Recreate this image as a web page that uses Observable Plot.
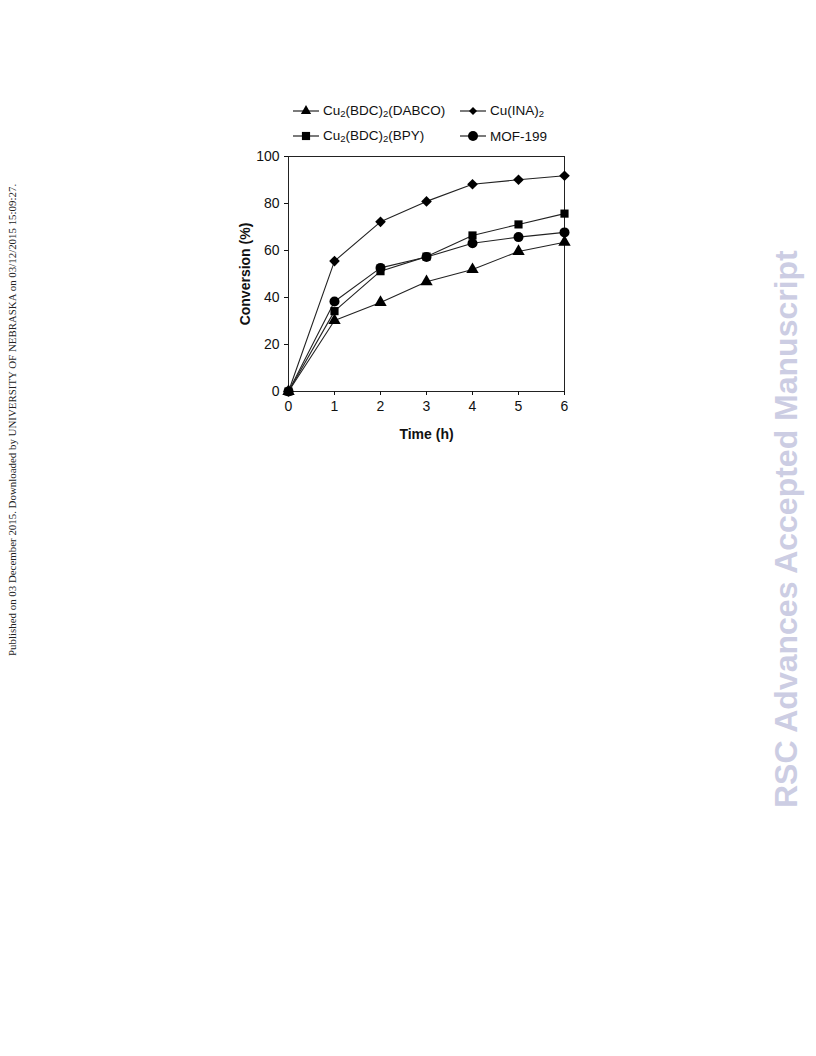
<!DOCTYPE html>
<html><head><meta charset="utf-8">
<script src="https://cdn.jsdelivr.net/npm/d3@7"></script>
<script src="https://cdn.jsdelivr.net/npm/@observablehq/plot@0.6"></script>
<style>
body{margin:0;width:816px;height:1056px;position:relative;background:#fff;font-family:"Liberation Sans",Arial,sans-serif;}
#chart{position:absolute;left:220px;top:145px;}
#chart svg text{font-family:"Liberation Sans",Arial,sans-serif;}
#chart svg [aria-label="y-axis label"] text,#chart svg [aria-label="x-axis label"] text{font-weight:bold;}
.leg{position:absolute;font-size:13.5px;color:#111;display:flex;align-items:center;white-space:nowrap;}
.leg svg{margin-right:3px;}
.side{position:absolute;transform-origin:0 0;transform:rotate(-90deg);white-space:nowrap;}
</style></head><body>
<div id="chart"></div>
<div class="side" style="left:6px;top:656px;font-family:'Liberation Serif',serif;font-size:10.9px;color:#222;">Published on 03 December 2015. Downloaded by UNIVERSITY OF NEBRASKA on 03/12/2015 15:09:27.</div>
<div class="side" style="left:768px;top:808px;font-family:'Liberation Sans',Arial,sans-serif;font-weight:bold;font-size:32px;color:#cccde3;">RSC Advances Accepted Manuscript</div>
<script>
const times = [0, 1, 2, 3, 4, 5, 6];
const dabco = [0, 30.2, 37.9, 46.7, 51.9, 59.6, 63.5];
const ina = [0, 55.5, 72.2, 80.9, 88.2, 90.1, 91.8];
const bpy = [0, 34.2, 51.2, 57.4, 66.4, 71.1, 75.7];
const mof = [0, 38.3, 52.6, 57.2, 63.1, 65.7, 67.7];
const yTicks = [0, 20, 40, 60, 80, 100];

const seriesDefs = [
  {name: "Cu2(BDC)2(DABCO)", html: "Cu<sub>2</sub>(BDC)<sub>2</sub>(DABCO)", values: dabco, symbol: "triangle", r: 4.6},
  {name: "Cu(INA)2", html: "Cu(INA)<sub>2</sub>", values: ina, symbol: "diamond2", r: 4.8},
  {name: "Cu2(BDC)2(BPY)", html: "Cu<sub>2</sub>(BDC)<sub>2</sub>(BPY)", values: bpy, symbol: "square", r: 4.6},
  {name: "MOF-199", html: "MOF-199", values: mof, symbol: "circle", r: 5}
];
const rows = seriesDefs.flatMap(s => times.map((t, i) => ({series: s.name, t, v: s.values[i], symbol: s.symbol, r: s.r})));

const plot = Plot.plot({
  width: 360, height: 305,
  marginLeft: 68, marginRight: 16, marginTop: 11, marginBottom: 59,
  style: {fontSize: "13.5px", color: "#111", background: "transparent"},
  x: {domain: [0, 6], ticks: times, label: null},
  y: {domain: [0, 100], ticks: yTicks, label: null},
  marks: [
    Plot.frame({stroke: "#222", strokeWidth: 1}),
    Plot.axisX({ticks: times, tickFormat: "d", tickSize: 4, tickPadding: 6, label: "Time (h)", labelAnchor: "center", labelArrow: "none", labelOffset: 47, fontSize: 14}),
    Plot.axisY({ticks: yTicks, tickFormat: "d", tickSize: 4, tickPadding: 5, label: "Conversion (%)", labelAnchor: "center", labelArrow: "none", labelOffset: 48, fontSize: 14}),
    Plot.line(rows, {x: "t", y: "v", z: "series", stroke: "#222", strokeWidth: 1.1}),
    ...seriesDefs.map(s => Plot.dot(rows.filter(d => d.series === s.name), {x: "t", y: "v", symbol: () => s.symbol, r: s.r, fill: "#000", stroke: "none"}))
  ]
});
document.getElementById("chart").appendChild(plot);

// legend
const legPos = [
  {left: 292, top: 103}, {left: 459, top: 103},
  {left: 292, top: 128}, {left: 459, top: 128}
];
const symMap = {triangle: d3.symbolTriangle, diamond2: d3.symbolDiamond2, square: d3.symbolSquare, circle: d3.symbolCircle};
seriesDefs.forEach((s, i) => {
  const div = document.createElement("div");
  div.className = "leg";
  div.style.left = legPos[i].left + "px";
  div.style.top = legPos[i].top + "px";
  const svg = d3.create("svg").attr("width", 28).attr("height", 16);
  svg.append("line").attr("x1", 1).attr("x2", 27).attr("y1", 8).attr("y2", 8).attr("stroke", "#222").attr("stroke-width", 1.2);
  const sr = s.symbol === "diamond2" ? 3.6 : (s.symbol === "triangle" ? 3.8 : s.r);
  svg.append("path").attr("transform", "translate(14,8)").attr("d", d3.symbol(symMap[s.symbol], Math.PI * sr * sr)()).attr("fill", "#000");
  div.appendChild(svg.node());
  const span = document.createElement("span");
  span.innerHTML = s.html;
  span.querySelectorAll("sub").forEach(e => { e.style.fontSize = "9.5px"; e.style.verticalAlign = "-2px"; });
  div.appendChild(span);
  document.body.appendChild(div);
});
</script>
</body></html>
